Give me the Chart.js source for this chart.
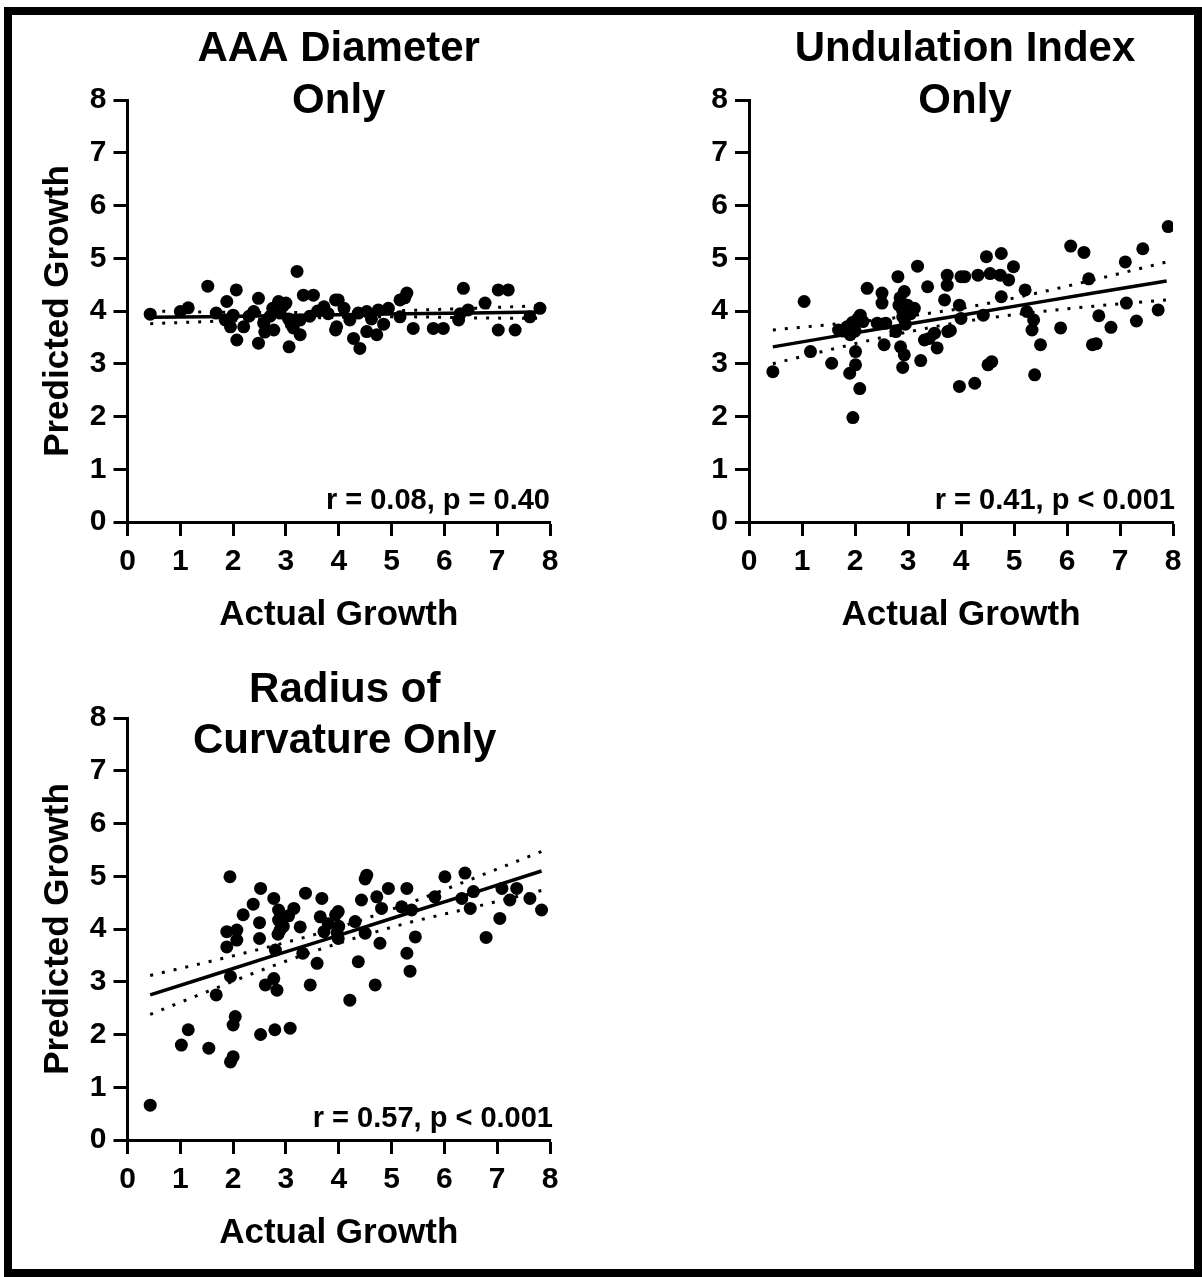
<!DOCTYPE html>
<html>
<head>
<meta charset="utf-8">
<script src="https://cdn.jsdelivr.net/npm/chart.js@4.4.1/dist/chart.umd.min.js"></script>
<style>
  body { margin: 0; background: #fff; width: 1202px; height: 1277px; position: relative; overflow: hidden; }
  #frame { position: absolute; left: 4px; top: 7px; width: 1182px; height: 1254px; border: 8px solid #000; }
  canvas { position: absolute; }
</style>
</head>
<body>
<div id="frame"></div>
<canvas id="chartAAA" width="560" height="640" style="left:20px;top:20px"></canvas>
<canvas id="chartUI" width="570" height="640" style="left:620px;top:20px"></canvas>
<canvas id="chartROC" width="560" height="640" style="left:20px;top:638px"></canvas>

<script>
// values: [actual growth, predicted growth]
const aaaPoints = [
  [0.43,3.94],[1.00,3.99],[1.15,4.06],[1.52,4.47],[1.68,3.96],[1.88,4.18],[2.06,4.40],[1.85,3.83],
  [2.00,3.92],[2.07,3.45],[2.20,3.70],[2.48,4.24],[2.39,3.99],[2.48,3.39],[2.58,3.77],[2.77,3.64],
  [2.86,4.18],[2.89,3.96],[2.70,3.90],[3.06,3.32],[3.21,4.75],[3.33,4.30],[3.52,4.30],[3.27,3.83],
  [3.27,3.55],[3.14,3.68],[3.72,4.08],[3.94,4.21],[3.94,3.64],[3.99,4.21],[3.96,3.70],[4.21,3.83],
  [4.28,3.48],[4.40,3.29],[4.37,3.96],[4.53,3.99],[4.53,3.61],[4.72,3.55],[4.75,4.02],[4.94,4.05],
  [5.16,4.21],[5.29,4.34],[5.16,3.89],[5.41,3.67],[5.79,3.67],[5.98,3.67],[6.27,3.83],[6.36,4.43],
  [6.45,4.02],[6.77,4.15],[7.02,4.40],[7.21,4.40],[7.02,3.64],[7.34,3.64],[7.62,3.89],[7.81,4.05],
  [2.95,4.10],[3.05,3.85],[3.10,3.75],[3.45,3.90],[3.80,3.95],[4.10,4.05],[4.62,3.85],[4.85,3.75],
  [5.25,4.25],[6.30,3.95],[2.30,3.90],[1.95,3.70],[2.75,4.05],[3.60,4.00],[2.60,3.60],[3.00,4.15]
];
const uiPoints = [
  [0.45,2.85],[1.04,4.18],[1.16,3.23],[1.56,3.01],[1.69,3.64],[1.85,3.70],[1.95,3.78],[2.05,3.85],
  [2.10,3.92],[1.91,3.55],[2.01,3.23],[2.01,2.98],[1.90,2.82],[2.09,2.53],[1.96,1.98],[2.23,4.43],
  [2.51,4.34],[2.51,4.15],[2.42,3.77],[2.58,3.77],[2.55,3.36],[2.81,4.65],[2.93,4.37],[2.83,4.11],
  [2.99,4.11],[3.12,4.05],[2.90,3.89],[2.77,3.61],[2.86,3.32],[2.93,3.17],[2.90,2.93],[3.18,4.85],
  [3.37,4.46],[3.24,3.06],[3.31,3.45],[3.55,3.30],[3.50,3.58],[3.75,3.61],[3.80,3.63],[3.40,3.48],
  [3.74,4.68],[3.74,4.49],[3.69,4.21],[3.97,4.11],[4.00,4.65],[4.07,4.65],[4.32,4.68],[4.48,5.03],
  [4.76,5.09],[4.55,4.71],[4.74,4.68],[4.90,4.59],[4.99,4.84],[5.21,4.40],[4.76,4.27],[4.00,3.86],
  [4.42,3.92],[5.24,3.99],[5.37,3.83],[5.34,3.64],[5.50,3.36],[5.39,2.79],[3.97,2.57],[4.26,2.63],
  [4.51,2.98],[4.58,3.04],[5.88,3.68],[6.07,5.23],[6.32,5.11],[6.41,4.61],[6.60,3.91],[6.83,3.69],
  [6.48,3.36],[6.55,3.38],[7.10,4.93],[7.43,5.18],[7.12,4.15],[7.31,3.81],[7.72,4.02],[7.91,5.60],
  [1.78,3.62],[2.15,3.80],[2.00,3.62],[2.90,4.00],[2.95,3.75],[3.05,3.95],[2.85,4.25]
];
const rocPoints = [
  [0.43,0.66],[1.02,1.80],[1.15,2.09],[1.54,1.74],[1.94,4.99],[1.95,1.48],[2.00,1.58],[2.00,2.18],
  [2.04,2.34],[1.68,2.75],[1.88,3.95],[1.88,3.66],[2.07,3.98],[2.07,3.79],[1.95,3.10],[2.19,4.27],
  [2.38,4.47],[2.50,4.12],[2.50,3.82],[2.52,4.77],[2.52,2.00],[2.79,2.09],[3.08,2.12],[2.77,4.58],
  [2.86,4.36],[2.86,4.17],[2.89,3.98],[2.80,3.60],[2.61,2.94],[2.77,3.06],[2.83,2.84],[3.15,4.39],
  [3.27,4.04],[3.37,4.68],[3.68,4.58],[3.65,4.23],[3.72,3.95],[3.32,3.54],[3.59,3.35],[3.46,2.94],
  [3.94,4.27],[3.97,3.93],[3.99,4.33],[3.99,3.82],[4.31,4.14],[4.50,3.92],[4.37,3.38],[4.21,2.65],
  [4.53,5.02],[4.50,4.95],[4.43,4.55],[4.78,3.73],[4.69,2.94],[4.72,4.61],[4.81,4.39],[4.94,4.77],
  [5.19,4.42],[5.29,4.77],[5.38,4.36],[5.45,3.85],[5.29,3.54],[5.35,3.20],[5.82,4.61],[6.01,4.99],
  [6.33,4.58],[6.39,5.06],[6.49,4.39],[6.55,4.71],[6.79,3.84],[7.05,4.20],[7.09,4.77],[7.24,4.55],
  [7.37,4.77],[7.62,4.58],[7.84,4.36],[2.95,4.05],[3.05,4.25],[3.80,4.10],[4.00,4.05],[2.85,3.90]
];

// regression line and 95% band, read at these x positions
const aaaFitX = [0.43, 1.5, 2.75, 4, 5.25, 6.5, 7.8];
const aaaFit   = [3.88, 3.89, 3.91, 3.93, 3.95, 3.96, 3.98];
const aaaUpper = [4.00, 3.98, 3.97, 3.98, 4.01, 4.05, 4.10];
const aaaLower = [3.76, 3.80, 3.85, 3.88, 3.89, 3.87, 3.86];

const uiFitX = [0.45, 1.5, 2.75, 4, 5.25, 6.5, 7.88];
const uiFit   = [3.32, 3.50, 3.71, 3.92, 4.13, 4.34, 4.57];
const uiUpper = [3.64, 3.74, 3.87, 4.05, 4.30, 4.59, 4.93];
const uiLower = [3.00, 3.26, 3.55, 3.79, 3.96, 4.09, 4.21];

const rocFitX = [0.43, 1.5, 2.75, 4, 5.25, 6.5, 7.84];
const rocFit   = [2.75, 3.09, 3.49, 3.88, 4.28, 4.67, 5.10];
const rocUpper = [3.12, 3.37, 3.68, 4.03, 4.46, 4.94, 5.47];
const rocLower = [2.38, 2.81, 3.30, 3.73, 4.10, 4.40, 4.73];

const axisMin = 0;
const axisMax = 8;

const FONT = '"Liberation Sans", Arial, sans-serif';

// draws the two-line panel title and the r/p note
const panelText = {
  id: 'panelText',
  afterDraw(chart, args, opts) {
    const ctx = chart.ctx;
    const a = chart.chartArea;
    ctx.save();
    ctx.fillStyle = '#000';
    ctx.textBaseline = 'middle';
    ctx.textAlign = 'center';
    ctx.font = 'bold 42px ' + FONT;
    const cx = (a.left + a.right) / 2 + opts.titleDx;
    opts.title.forEach((line, i) => {
      ctx.fillText(line, cx, a.top + opts.titleDy[i]);
    });
    ctx.textAlign = 'right';
    ctx.font = 'bold 29px ' + FONT;
    ctx.fillText(opts.stats, a.right + opts.statsDx, a.bottom - 21);
    ctx.restore();
  }
};

function toXY(pairs) {
  return pairs.map(p => ({ x: p[0], y: p[1] }));
}

function lineData(xs, ys) {
  return xs.map((x, i) => ({ x: x, y: ys[i] }));
}

function makePanel(id, points, fitX, fit, upper, lower, text, yTitle, yAxisWidth, plotWidth) {
  const ctx = document.getElementById(id).getContext('2d');
  const canvasW = ctx.canvas.width;
  new Chart(ctx, {
    type: 'scatter',
    data: {
      datasets: [
        {
          data: toXY(points),
          backgroundColor: '#000',
          pointRadius: 6.5,
          pointBorderWidth: 0
        },
        {
          data: lineData(fitX, fit),
          showLine: true,
          borderColor: '#000',
          borderWidth: 3.5,
          pointRadius: 0
        },
        {
          data: lineData(fitX, upper),
          showLine: true,
          borderColor: '#000',
          borderWidth: 3,
          borderDash: [3, 9],
          cubicInterpolationMode: 'monotone',
          pointRadius: 0
        },
        {
          data: lineData(fitX, lower),
          showLine: true,
          borderColor: '#000',
          borderWidth: 3,
          borderDash: [3, 9],
          cubicInterpolationMode: 'monotone',
          pointRadius: 0
        }
      ]
    },
    options: {
      responsive: false,
      animation: false,
      devicePixelRatio: 1,
      layout: {
        padding: { left: 0, top: 80, right: canvasW - yAxisWidth - plotWidth, bottom: 13 }
      },
      scales: {
        x: {
          min: axisMin,
          max: axisMax,
          afterFit: s => { s.height = 125; },
          border: { display: true, color: '#000', width: 3 },
          grid: { drawOnChartArea: false, drawTicks: true, tickLength: 14, tickWidth: 3, tickColor: '#000' },
          ticks: { stepSize: 1, color: '#000', padding: 8, font: { family: FONT, size: 30, weight: 'bold' } },
          title: {
            display: true,
            text: 'Actual Growth',
            color: '#000',
            padding: { top: 0, bottom: 11 },
            font: { family: FONT, size: 35, weight: 'bold' }
          }
        },
        y: {
          min: axisMin,
          max: axisMax,
          afterFit: s => { s.width = yAxisWidth; },
          border: { display: true, color: '#000', width: 3 },
          grid: { drawOnChartArea: false, drawTicks: true, tickLength: 14, tickWidth: 3, tickColor: '#000' },
          ticks: { stepSize: 1, color: '#000', padding: 7, font: { family: FONT, size: 30, weight: 'bold' } },
          title: {
            display: yTitle,
            text: 'Predicted Growth',
            color: '#000',
            padding: { top: 17, bottom: 0 },
            font: { family: FONT, size: 35, weight: 'bold' }
          }
        }
      },
      plugins: {
        legend: { display: false },
        tooltip: { enabled: false },
        panelText: text
      }
    },
    plugins: [panelText]
  });
}

makePanel('chartAAA', aaaPoints, aaaFitX, aaaFit, aaaUpper, aaaLower,
  { title: ['AAA Diameter', 'Only'], titleDx: 0, titleDy: [-51, 1], stats: 'r = 0.08, p = 0.40', statsDx: 0 },
  true, 107.5, 422.5);

makePanel('chartUI', uiPoints, uiFitX, uiFit, uiUpper, uiLower,
  { title: ['Undulation Index', 'Only'], titleDx: 4, titleDy: [-51, 1], stats: 'r = 0.41, p < 0.001', statsDx: 2 },
  false, 129, 424);

makePanel('chartROC', rocPoints, rocFitX, rocFit, rocUpper, rocLower,
  { title: ['Radius of', 'Curvature Only'], titleDx: 6, titleDy: [-28, 23], stats: 'r = 0.57, p < 0.001', statsDx: 3 },
  true, 107.5, 422.5);
</script>
</body>
</html>
